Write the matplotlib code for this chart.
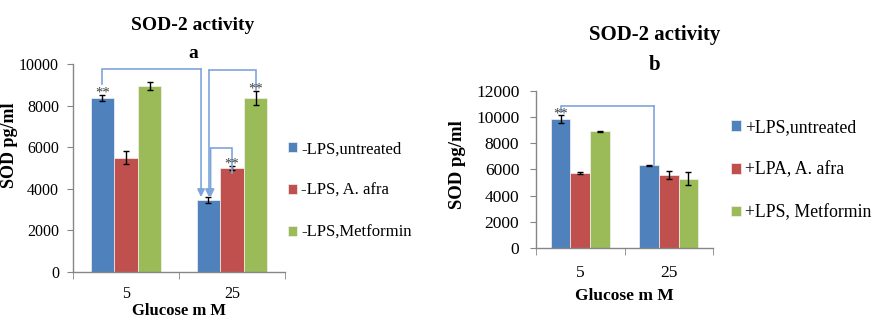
import matplotlib
matplotlib.use("Agg")
import matplotlib.pyplot as plt
import numpy as np

plt.rcParams['font.family'] = ['Liberation Serif', 'DejaVu Serif']

glucose = ["5", "25"]
colors = ["#4F81BD", "#C0504D", "#9BBB59"]

labels_a = ["-LPS,untreated", "-LPS, A. afra", "-LPS,Metformin"]
vals_a = [[8350, 3450], [5500, 5000], [8950, 8350]]
errs_a = [[150, 150], [330, 100], [200, 330]]
ticks_a = [0, 2000, 4000, 6000, 8000, 10000]

labels_b = ["+LPS,untreated", "+LPA, A. afra", "+LPS, Metformin"]
vals_b = [[9850, 6300], [5750, 5550], [8900, 5300]]
errs_b = [[300, 40], [80, 300], [50, 500]]
ticks_b = [0, 2000, 4000, 6000, 8000, 10000, 12000]

W, H = 874, 320
fig = plt.figure(figsize=(W / 100, H / 100), dpi=100)

bw = 0.222
line_c = "#7EA6DA"


def px(x0, y0, x1, y1):
    return [x0 / W, 1 - y1 / H, (x1 - x0) / W, (y1 - y0) / H]


def make_chart(rect, vals, errs, labels, ticks, fs_tick, fs_lab, tickpad_x, ypad, labpad):
    ax = fig.add_axes(rect)
    centers = np.arange(len(glucose)) + 0.5
    positions = []
    for i in range(3):
        xs = centers + (i - 1) * bw
        positions.append(xs)
        ax.bar(xs, vals[i], width=bw, color=colors[i], edgecolor="#F2F2F2",
               linewidth=0.5, label=labels[i], zorder=2)
        ax.errorbar(xs, vals[i], yerr=errs[i], fmt="none", ecolor="black",
                    elinewidth=1.0, capsize=2.2, capthick=1.0, zorder=3)
    ax.set_xlim(0, len(glucose))
    ax.set_ylim(0, ticks[-1])
    ax.set_yticks(ticks)
    ax.set_yticklabels([str(t) for t in ticks], fontsize=fs_tick)
    ax.set_xticks(centers)
    ax.set_xticklabels(glucose, fontsize=fs_tick)
    ax.set_xticks(np.arange(len(glucose) + 1), minor=True)
    ax.tick_params(axis="x", which="major", length=0, pad=tickpad_x)
    ax.tick_params(axis="x", which="minor", length=5, direction="out", color="#868686")
    ax.tick_params(axis="y", length=4, direction="out", color="#868686", pad=ypad)
    for s in ["top", "right"]:
        ax.spines[s].set_visible(False)
    for s in ["left", "bottom"]:
        ax.spines[s].set_color("#868686")
        ax.spines[s].set_linewidth(1.0)
    ax.set_xlabel("Glucose m M", fontsize=fs_lab, fontweight="bold", labelpad=labpad)
    ax.set_ylabel("SOD pg/ml", fontsize=fs_lab + 1, fontweight="bold")
    return ax, positions


def bracket(ax, pts, arrow=True):
    xs = [p[0] for p in pts]
    ys = [p[1] for p in pts]
    ax.plot(xs[:-1], ys[:-1], color=line_c, lw=1.2, clip_on=False, zorder=4,
            solid_joinstyle="miter")
    if arrow:
        ax.annotate("", xy=pts[-1], xytext=pts[-2],
                    arrowprops=dict(arrowstyle="-|>,head_length=0.45,head_width=0.22",
                                    color=line_c, lw=1.2, shrinkA=0, shrinkB=0),
                    zorder=4, annotation_clip=False)
    else:
        ax.plot(xs[-2:], ys[-2:], color=line_c, lw=1.2, clip_on=False, zorder=4)


# ---- chart a ----
axa, pa = make_chart(px(73, 64, 285, 272), vals_a, errs_a, labels_a, ticks_a,
                     11.5, 12, 10, 6, 1)
axa.yaxis.set_label_coords(-0.26, 0.61)

star_kw = dict(ha="center", va="center", fontsize=10.5, color="#404040", zorder=5)
axa.text(pa[0][0], vals_a[0][0] + errs_a[0][0] + 100, "**", **star_kw)
axa.text(pa[1][1], vals_a[1][1] + errs_a[1][1] + 100, "**", **star_kw)
axa.text(pa[2][1], vals_a[2][1] + errs_a[2][1] + 100, "**", **star_kw)

tip_a = vals_a[0][1] + errs_a[0][1]
bracket(axa, [(pa[0][0], 9050), (pa[0][0], 9760), (pa[0][1] - 0.07, 9760),
              (pa[0][1] - 0.07, tip_a)])
bracket(axa, [(pa[2][1], 8750), (pa[2][1], 9710), (pa[0][1] + 0.005, 9710),
              (pa[0][1] + 0.005, tip_a)])
bracket(axa, [(pa[1][1], 4760), (pa[1][1], 5960), (pa[0][1] + 0.02, 5960),
              (pa[0][1] + 0.02, tip_a)])

fig.text(193 / W, 1 - 25 / H, "SOD-2 activity", ha="center", va="center",
         fontsize=14, fontweight="bold")
fig.text(193 / W, 1 - 53 / H, "a", ha="center", va="center",
         fontsize=14, fontweight="bold")

bars_a = [c for c in axa.containers if hasattr(c, "patches")]
fig.legend(handles=bars_a, labels=labels_a, loc="center left",
           bbox_to_anchor=(288 / W, 1 - 191 / H),
           frameon=False, fontsize=12, handlelength=0.55, handleheight=0.55,
           handletextpad=0.25, labelspacing=1.55, borderpad=0, borderaxespad=0)

# ---- chart b ----
axb, pb = make_chart(px(536, 90.7, 713, 248), vals_b, errs_b, labels_b, ticks_b,
                     12.5, 12.5, 12, 8, 5)
axb.yaxis.set_label_coords(-0.393, 0.53)
axb.text(pb[0][0], vals_b[0][0] + errs_b[0][0] + 100, "**", **star_kw)
bracket(axb, [(pb[0][0], 10400), (pb[0][0], 10840), (pb[0][1] + 0.06, 10840),
              (pb[0][1] + 0.06, vals_b[0][1] + 40)], arrow=False)

fig.text(655 / W, 1 - 35 / H, "SOD-2 activity", ha="center", va="center",
         fontsize=15, fontweight="bold")
fig.text(655 / W, 1 - 65 / H, "b", ha="center", va="center",
         fontsize=15, fontweight="bold")

bars_b = [c for c in axb.containers if hasattr(c, "patches")]
fig.legend(handles=bars_b, labels=labels_b, loc="center left",
           bbox_to_anchor=(731 / W, 1 - 170 / H),
           frameon=False, fontsize=12.8, handlelength=0.55, handleheight=0.55,
           handletextpad=0.25, labelspacing=1.45, borderpad=0, borderaxespad=0)

fig.savefig("out.png", dpi=100, facecolor="white")
